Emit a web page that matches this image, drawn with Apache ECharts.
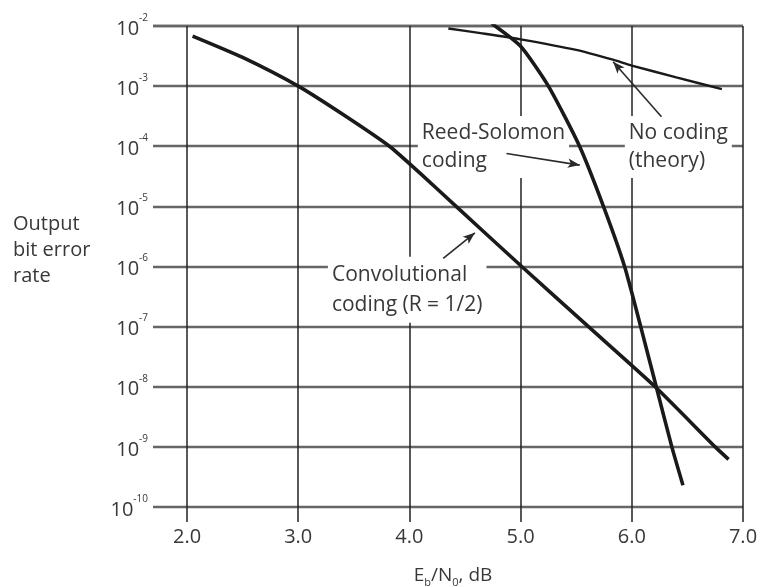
<!DOCTYPE html>
<html><head><meta charset="utf-8">
<script src="https://cdn.jsdelivr.net/npm/echarts@6/dist/echarts.min.js"></script>
<style>html,body{margin:0;padding:0;background:#fff}#c{width:763px;height:587px}</style>
</head><body><div id="c"></div>
<script>
// ---- data ----
const xTicks = [2, 3, 4, 5, 6, 7];
const convX = [2.05, 2.5, 3.0, 3.4, 3.82, 4.1, 4.42, 5.01, 5.61, 6.21, 6.75, 6.87];
const convY = [6.8e-3, 3.0e-3, 1.0e-3, 3.4e-4, 1.0e-4, 3.5e-5, 1.0e-5, 1.0e-6, 1.0e-7, 1.0e-8, 1.0e-9, 6.2e-10];
const rsX = [4.74, 5.0, 5.25, 5.53, 5.745, 5.935, 6.08, 6.22, 6.36, 6.46];
const rsY = [1.1e-2, 4.6e-3, 1.0e-3, 1.0e-4, 1.0e-5, 1.0e-6, 1.0e-7, 1.0e-8, 1.0e-9, 2.3e-10];
const ncX = [4.35, 4.64, 5.0, 5.5, 5.83, 6.0, 6.4, 6.81];
const ncY = [9.1e-3, 7.6e-3, 6.0e-3, 4.0e-3, 2.75e-3, 2.2e-3, 1.4e-3, 8.9e-4];
// annotation arrows (data coordinates)
const arrowFromX = [4.873, 6.267, 4.304];
const arrowFromY = [7.6e-5, 3.1e-4, 1.36e-6];
const arrowToX = [5.532, 5.832, 4.589];
const arrowToY = [4.86e-5, 2.55e-3, 3.64e-6];
// annotation texts (top-left anchor, data coordinates)
const annText = ['Reed-Solomon\ncoding', 'No coding\n(theory)', 'Convolutional\ncoding (R = 1/2)'];
const annX = [4.076, 5.937, 3.267];
const annY = [3.2e-4, 3.2e-4, 1.45e-6];
const yTitle = 'Output\nbit error\nrate';

const zip = (xs, ys) => xs.map((x, i) => [x, ys[i]]);
const FONT = '"Open Sans", "Noto Sans", sans-serif';
const TXT = '#383838';
const chart = echarts.init(document.getElementById('c'), null, {renderer: 'canvas'});

const option = {
  animation: false,
  backgroundColor: '#fff',
  grid: {left: 153, right: 20, top: 26, bottom: 80, containLabel: false, outerBoundsMode: 'none'},
  xAxis: {
    type: 'value', min: 1.694, max: 7,
    axisLine: {show: false},
    axisTick: {show: true, customValues: xTicks, length: 15, lineStyle: {color: '#222', width: 1.5}},
    axisLabel: {customValues: xTicks, formatter: v => v.toFixed(1), fontSize: 20, fontFamily: FONT, color: TXT, margin: 20},
    splitLine: {show: true, lineStyle: {color: '#222', width: 1.5}},
    name: 'E{sub|b}/N{sub|0}, dB', nameLocation: 'middle', nameGap: 57,
    nameTextStyle: {fontSize: 19, fontFamily: FONT, color: TXT, lineHeight: 24, padding: [0, 0, 0, 10],
      rich: {sub: {fontSize: 11, fontFamily: FONT, color: TXT, verticalAlign: 'bottom'}}}
  },
  yAxis: {
    type: 'log', logBase: 10, min: 1e-10, max: 1e-2, splitNumber: 8,
    axisLine: {show: false}, axisTick: {show: false},
    axisLabel: {
      margin: 5, fontFamily: FONT, color: TXT,
      formatter: v => '{b|10}{s|' + Math.round(Math.log10(v)) + '}',
      rich: {
        b: {fontSize: 20, fontFamily: FONT, color: TXT, lineHeight: 26, verticalAlign: 'bottom'},
        s: {fontSize: 10, fontFamily: FONT, color: TXT, verticalAlign: 'top'}
      }
    },
    splitLine: {show: true, lineStyle: {color: '#666', width: 2.4}}
  },
  series: [
    {type: 'line', name: 'Convolutional', data: zip(convX, convY), showSymbol: false, smooth: 0.2,
     lineStyle: {color: '#1a1a1a', width: 3.6}, z: 3},
    {type: 'line', name: 'Reed-Solomon', data: zip(rsX, rsY), showSymbol: false, smooth: 0.2,
     lineStyle: {color: '#1a1a1a', width: 3.6}, z: 3},
    {type: 'line', name: 'No coding', data: zip(ncX, ncY), showSymbol: false, smooth: 0.2,
     lineStyle: {color: '#1a1a1a', width: 2.4}, z: 3,
     markLine: {
       silent: true, symbol: ['none', 'arrow'], symbolSize: [7, 12], animation: false,
       label: {show: false}, emphasis: {disabled: true},
       lineStyle: {color: '#2a2a2a', width: 1.6, type: 'solid'},
       data: arrowFromX.map((x, i) => [{coord: [x, arrowFromY[i]]}, {coord: [arrowToX[i], arrowToY[i]]}])
     }}
  ]
};
chart.setOption(option);

const gfx = annText.map((t, i) => {
  const p = chart.convertToPixel({gridIndex: 0}, [annX[i], annY[i]]);
  return {type: 'text', x: p[0], y: p[1], z: 1,
    style: {text: t, fontSize: 21, fontFamily: FONT, fill: TXT, lineHeight: i === 2 ? 30 : 28,
      backgroundColor: '#fff', padding: [3, 4], align: 'left', verticalAlign: 'top'}};
});
gfx.push({type: 'text', left: 13, top: 211, z: 1,
  style: {text: yTitle, fontSize: 20, fontFamily: FONT, fill: TXT, lineHeight: 26}});
chart.setOption({graphic: gfx});
</script></body></html>
